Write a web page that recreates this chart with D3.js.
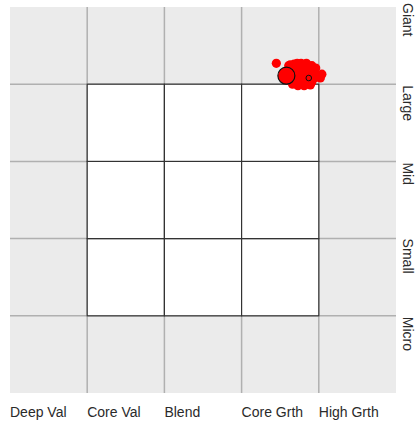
<!DOCTYPE html>
<html><head><meta charset="utf-8">
<script src="https://cdn.jsdelivr.net/npm/d3@7"></script>
<style>body{margin:0;background:#fff}svg{display:block}text{font-family:"Liberation Sans Narrow","Arial Narrow",sans-serif;font-size:14px;fill:#2a2a2a}</style>
</head><body><div id="chart"></div>
<script>
const styleLabels = ["Deep Val","Core Val","Blend","Core Grth","High Grth"];
const sizeLabels = ["Giant","Large","Mid","Small","Micro"];
const sizeLabelShift = [-4,1,1,0,1];
// holdings: [style score, size score] in grid units (0..3 = core box)
const holdingsX = [2.45,2.61,2.68,2.76,2.83,2.91,2.96,2.65,2.73,2.81,2.89,2.95,2.70,2.78,2.86,2.94,2.96,2.68,2.76,2.83,2.91,2.73,2.81,2.89,3.04,3.02,2.64,2.71,2.79,2.87,2.93,2.75,2.85,2.92,2.70,2.80,2.88,2.63,2.66,2.72,2.77,2.84];
const holdingsY = [3.27,3.24,3.26,3.25,3.26,3.24,3.21,3.16,3.18,3.18,3.17,3.15,3.08,3.11,3.12,3.08,3.11,3.02,3.03,3.03,3.03,2.98,2.98,2.99,3.13,3.08,3.20,3.21,3.22,3.21,3.19,3.13,3.14,3.12,3.04,3.06,3.05,3.25,3.00,3.27,3.27,3.27];
const centroid = {x:2.58, y:3.11};
const benchmark = {x:2.87, y:3.08};

const W = 417, H = 421;
const svg = d3.select("#chart").append("svg").attr("width", W).attr("height", H);
const x = d3.scaleLinear().domain([-1,4]).range([10,396]);
const y = d3.scaleLinear().domain([-1,4]).range([393,7]);
const ticks = d3.range(-1,5);

svg.append("rect").attr("x",x(-1)).attr("y",y(4)).attr("width",x(4)-x(-1)).attr("height",y(-1)-y(4)).attr("fill","#ebebeb");
const g = svg.append("g");
g.selectAll(".vl").data(ticks.slice(1,-1)).join("line")
  .attr("x1",d=>x(d)).attr("x2",d=>x(d)).attr("y1",y(4)).attr("y2",y(-1))
  .attr("stroke","#b0b0b0").attr("stroke-width",1.5);
g.selectAll(".hl").data(ticks.slice(1,-1)).join("line")
  .attr("y1",d=>y(d)).attr("y2",d=>y(d)).attr("x1",x(-1)).attr("x2",x(4))
  .attr("stroke","#b0b0b0").attr("stroke-width",1.5);

const cells = [];
for (let i=0;i<3;i++) for (let j=0;j<3;j++) cells.push([i,j]);
svg.selectAll(".cell").data(cells).join("rect")
  .attr("x",d=>x(d[0])).attr("y",d=>y(d[1]+1)).attr("width",x(1)-x(0)).attr("height",y(0)-y(1))
  .attr("fill","#fff").attr("stroke","#333").attr("stroke-width",1.2);

svg.selectAll(".dot").data(holdingsX.map((v,i)=>[v,holdingsY[i]])).join("circle")
  .attr("cx",d=>x(d[0])).attr("cy",d=>y(d[1])).attr("r",4.6).attr("fill","#ff0000");
svg.append("circle").attr("cx",x(centroid.x)).attr("cy",y(centroid.y)).attr("r",8.5)
  .attr("fill","#ff0000").attr("stroke","#111").attr("stroke-width",1.2);
svg.append("circle").attr("cx",x(benchmark.x)).attr("cy",y(benchmark.y)).attr("r",2.8)
  .attr("fill","none").attr("stroke","#111").attr("stroke-width",1);

svg.selectAll(".xl").data(styleLabels).join("text")
  .attr("x",(d,i)=>x(i-1)).attr("y",417).text(d=>d);
svg.selectAll(".yl").data(sizeLabels).join("text")
  .attr("transform",(d,i)=>`translate(403,${y(4-i)+sizeLabelShift[i]}) rotate(90)`).text(d=>d);
</script></body></html>
